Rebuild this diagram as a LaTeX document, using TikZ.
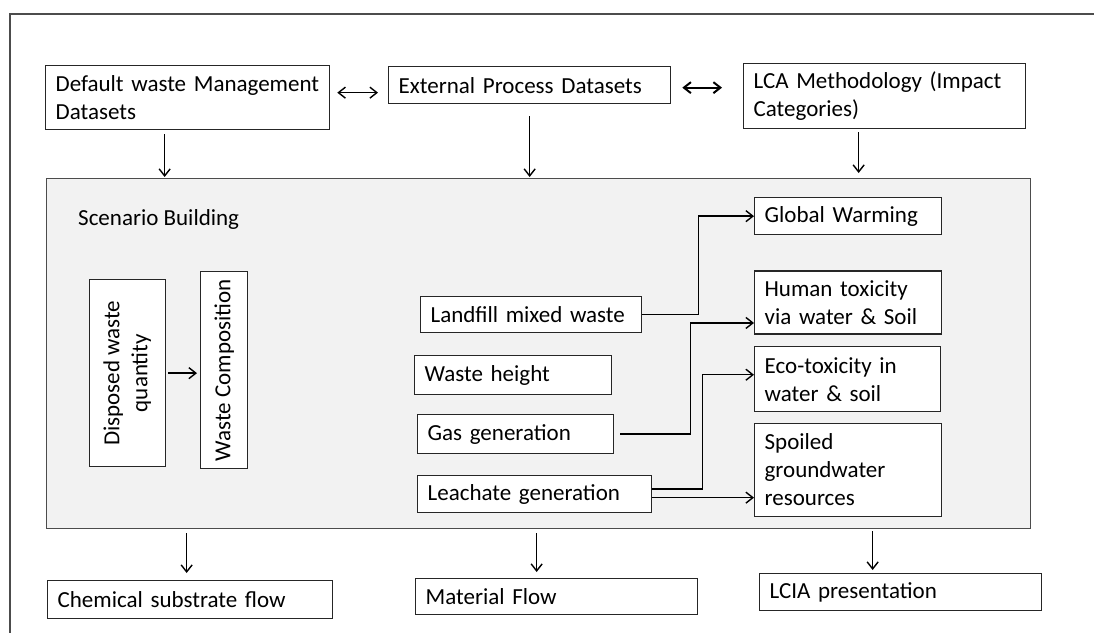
\documentclass[tikz,border=0pt]{standalone}
\usepackage{fontspec}
\usepackage{graphicx}
\setmainfont{Carlito}
\usetikzlibrary{arrows.meta, positioning}

\begin{document}
\begin{tikzpicture}[
		x=1pt, y=-1pt,
		font=\fontsize{23}{28}\selectfont,
		box/.style 2 args={draw=black!85, line width=1.3pt, fill=white, anchor=north west,
			inner xsep=10pt, inner ysep=2pt, align=left, text width=#1, minimum height=#2},
		upright/.style 2 args={draw=black!85, line width=1.3pt, fill=white, anchor=north west,
			inner sep=0pt, minimum width=#1, minimum height=#2},
		panel/.style={draw=black!70, line width=1.3pt, fill=black!5, anchor=north west, inner sep=0pt},
		link/.style={line width=1.4pt, -{Straight Barb[length=7pt,width=11pt]}},
		both/.style={line width=1.4pt, {Straight Barb[length=7pt,width=11pt]}-{Straight Barb[length=7pt,width=11pt]}}
	]
	\useasboundingbox (0,0) rectangle (1094,632);
	\draw[black!70, line width=1.3pt] (10,640) -- (10,14) -- (1100,14);

	\node[box={264pt}{64pt}] (dflt) at (45,65) {Default waste Management\\Datasets};
	\node[box={262pt}{37pt}] (extp) at (388,66) {External Process Datasets};
	\node[box={262pt}{65pt}] (lca) at (743,63) {LCA Methodology (Impact\\Categories)};

	\node[panel, minimum width=984pt, minimum height=350pt] (scen) at (46,178) {};
	\node[anchor=west, inner sep=0pt] (scenlbl) at (78,219) {Scenario Building};

	\node[upright={76pt}{187pt}] (dispq) at (89,279) {\rotatebox{90}{\begin{tabular}{@{}c@{}}Disposed waste\\quantity\end{tabular}}};
	\node[upright={47pt}{197pt}] (wcomp) at (200,271) {\rotatebox{90}{Waste Composition}};

	\node[box={201pt}{36pt}] (landfill) at (420,296) {Landfill mixed waste};
	\node[box={177pt}{39pt}] (wheight) at (414,355) {Waste height};
	\node[box={176pt}{39pt}] (gasgen) at (417,414) {Gas generation};
	\node[box={214pt}{37pt}] (leach) at (417,475) {Leachate generation};

	\node[box={167pt}{37pt}] (gw) at (754,197) {Global Warming};
	\node[box={167pt}{63pt}, below=35pt of gw.south west, anchor=north west] (human) {Human toxicity\\via water \& Soil};
	\node[box={166pt}{65pt}, below=11.5pt of human.south west, anchor=north west] (eco) {Eco-toxicity in\\water \& soil};
	\node[box={167pt}{93pt}, below=10.5pt of eco.south west, anchor=north west] (spoil) {Spoiled\\groundwater\\resources};

	\node[box={265pt}{38pt}] (chem) at (47,580) {Chemical substrate flow};
	\node[box={262pt}{36pt}] (matflow) at (415,578) {Material Flow};
	\node[box={262pt}{37pt}] (lcia) at (759,573) {LCIA presentation};

	\coordinate (d1) at ([yshift=5pt]dflt.east);
	\coordinate (d2) at ([yshift=-2.5pt]extp.east);
	\draw[both, shorten <=7pt, shorten >=10pt] (d1) -- (d1 -| extp.west);
	\draw[both, line width=2pt, shorten <=11pt, shorten >=21pt] (d2) -- (d2 -| lca.west);

	\coordinate (t1) at ([xshift=-23pt]dflt.south);
	\coordinate (t3) at ([xshift=-26pt]lca.south);
	\draw[link, shorten <=4pt, shorten >=1pt] (t1) -- (t1 |- scen.north);
	\draw[link, shorten <=12pt, shorten >=1pt] (extp.south) -- (extp.south |- scen.north);
	\draw[link, shorten <=3pt, shorten >=5pt] (t3) -- (t3 |- scen.north);

	\draw[link, shorten <=2pt, shorten >=3pt] (dispq.east) -- (dispq.east -| wcomp.west);

	\coordinate (s1) at ([yshift=-3.5pt]leach.east);
	\draw[link] (landfill.east) -- ++(56,0) |- (gw.west);
	\draw[link, shorten <=6pt] (gasgen.east) -- ++(76,0) |- ([yshift=-20.5pt]human.west);
	\draw[link] ([yshift=5pt]leach.east) -- ++(50,0) |- ([yshift=4.5pt]eco.west);
	\draw[link] (s1) -- (s1 -| spoil.west);

	\coordinate (b1) at ([xshift=-3.5pt]chem.north);
	\coordinate (b2) at ([xshift=-20pt]matflow.north);
	\coordinate (b3) at ([xshift=-28pt]lcia.north);
	\draw[link, shorten <=4pt, shorten >=7pt] (b1 |- scen.south) -- (b1);
	\draw[link, shorten <=4pt, shorten >=6pt] (b2 |- scen.south) -- (b2);
	\draw[link, shorten <=2pt, shorten >=3pt] (b3 |- scen.south) -- (b3);
\end{tikzpicture}
\end{document}
